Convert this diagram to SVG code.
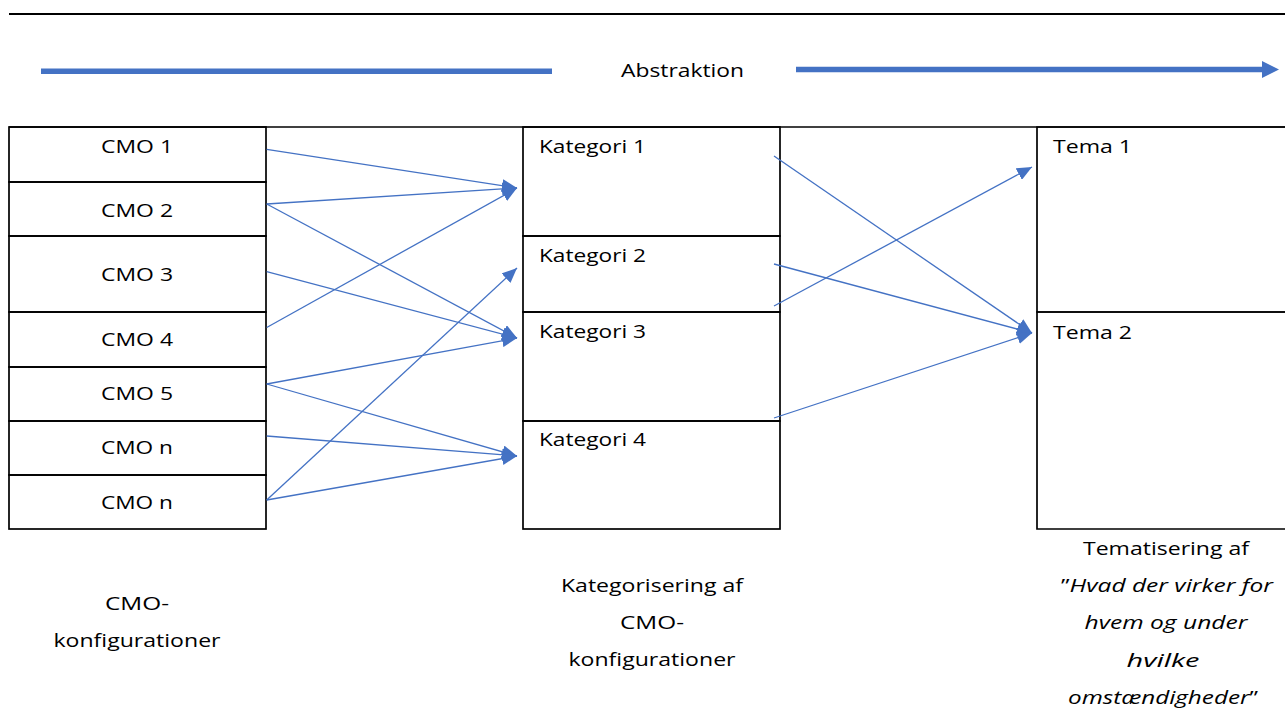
<svg xmlns="http://www.w3.org/2000/svg" width="1285" height="711" viewBox="0 0 1285 711">
<style>
.bg{fill:#ffffff}
.box{fill:none;stroke:#000000;stroke-width:1.7}
.t{font-family:"Open Sans","Liberation Sans",sans-serif;font-size:18px;fill:#000000}
.c{text-anchor:middle}
.i{font-style:italic}
.con{stroke:#4472C4;stroke-width:1.3;fill:none}
.bar{stroke:#4472C4;stroke-width:5.5;fill:none}
</style>
<defs>
<marker id="ah" markerUnits="userSpaceOnUse" markerWidth="16" markerHeight="13" refX="15" refY="6.5" orient="auto">
<path d="M0,0 L15,6.5 L0,13 z" fill="#4472C4"/>
</marker>
</defs>
<rect class="bg" x="0" y="0" width="1285" height="711"/>
<line x1="9" y1="14" x2="1285" y2="14" stroke="#000" stroke-width="2.2"/>
<g id="abstraction">
<line class="bar" x1="41" y1="71.2" x2="552" y2="71.2"/>
<line class="bar" x1="796" y1="69.5" x2="1263" y2="69.5"/>
<polygon points="1262,61 1279,69.5 1262,78" fill="#4472C4"/>
<text class="t" x="621" y="77" textLength="123" lengthAdjust="spacingAndGlyphs">Abstraktion</text>
</g>
<line class="box" x1="9" y1="127" x2="1285" y2="127"/>
<g id="cmo1"><rect class="box" x="9" y="127" width="257" height="55"/><text class="t c" x="137" y="153" textLength="72" lengthAdjust="spacingAndGlyphs">CMO 1</text></g>
<g id="cmo2"><rect class="box" x="9" y="182" width="257" height="54"/><text class="t c" x="137" y="216.5" textLength="72" lengthAdjust="spacingAndGlyphs">CMO 2</text></g>
<g id="cmo3"><rect class="box" x="9" y="236" width="257" height="76"/><text class="t c" x="137" y="281" textLength="72" lengthAdjust="spacingAndGlyphs">CMO 3</text></g>
<g id="cmo4"><rect class="box" x="9" y="312" width="257" height="55"/><text class="t c" x="137" y="345.5" textLength="72" lengthAdjust="spacingAndGlyphs">CMO 4</text></g>
<g id="cmo5"><rect class="box" x="9" y="367" width="257" height="54"/><text class="t c" x="137" y="400" textLength="72" lengthAdjust="spacingAndGlyphs">CMO 5</text></g>
<g id="cmon1"><rect class="box" x="9" y="421" width="257" height="54"/><text class="t c" x="137" y="454" textLength="72" lengthAdjust="spacingAndGlyphs">CMO n</text></g>
<g id="cmon2"><rect class="box" x="9" y="475" width="257" height="54"/><text class="t c" x="137" y="508.5" textLength="72" lengthAdjust="spacingAndGlyphs">CMO n</text></g>
<g id="kat1"><rect class="box" x="523" y="127" width="257" height="109"/><text class="t" x="539" y="153" textLength="107" lengthAdjust="spacingAndGlyphs">Kategori 1</text></g>
<g id="kat2"><rect class="box" x="523" y="236" width="257" height="76"/><text class="t" x="539" y="262" textLength="107" lengthAdjust="spacingAndGlyphs">Kategori 2</text></g>
<g id="kat3"><rect class="box" x="523" y="312" width="257" height="109"/><text class="t" x="539" y="338" textLength="107" lengthAdjust="spacingAndGlyphs">Kategori 3</text></g>
<g id="kat4"><rect class="box" x="523" y="421" width="257" height="108"/><text class="t" x="539" y="446" textLength="107" lengthAdjust="spacingAndGlyphs">Kategori 4</text></g>
<g id="tema1"><path class="box" d="M1290,127 H1037 V312 H1290"/><text class="t" x="1053" y="153" textLength="79" lengthAdjust="spacingAndGlyphs">Tema 1</text></g>
<g id="tema2"><path class="box" d="M1290,312 H1037 V529 H1290"/><text class="t" x="1053" y="339" textLength="79" lengthAdjust="spacingAndGlyphs">Tema 2</text></g>
<g id="connectors">
<line class="con" x1="266.7" y1="149.3" x2="517" y2="188" marker-end="url(#ah)"/>
<line class="con" x1="266.7" y1="204" x2="517" y2="188" marker-end="url(#ah)"/>
<line class="con" x1="266.7" y1="204" x2="517" y2="338" marker-end="url(#ah)"/>
<line class="con" x1="266.7" y1="271.7" x2="517" y2="338" marker-end="url(#ah)"/>
<line class="con" x1="266.7" y1="327.5" x2="517" y2="188" marker-end="url(#ah)"/>
<line class="con" x1="266.7" y1="384" x2="517" y2="338" marker-end="url(#ah)"/>
<line class="con" x1="266.7" y1="384" x2="517" y2="456" marker-end="url(#ah)"/>
<line class="con" x1="266.7" y1="436" x2="517" y2="456" marker-end="url(#ah)"/>
<line class="con" x1="266.7" y1="500" x2="517" y2="456" marker-end="url(#ah)"/>
<line class="con" x1="266.7" y1="500" x2="517" y2="268" marker-end="url(#ah)"/>
<line class="con" x1="774" y1="156" x2="1032" y2="333" marker-end="url(#ah)"/>
<line class="con" x1="774" y1="264" x2="1032" y2="333" marker-end="url(#ah)"/>
<line class="con" x1="774" y1="306" x2="1032" y2="167" marker-end="url(#ah)"/>
<line class="con" x1="774" y1="418" x2="1032" y2="333" marker-end="url(#ah)"/>
</g>
<g id="label-left">
<text class="t c" x="137" y="610" textLength="64" lengthAdjust="spacingAndGlyphs">CMO-</text>
<text class="t c" x="137" y="647" textLength="167" lengthAdjust="spacingAndGlyphs">konfigurationer</text>
</g>
<g id="label-middle">
<text class="t c" x="652" y="592" textLength="182" lengthAdjust="spacingAndGlyphs">Kategorisering af</text>
<text class="t c" x="652" y="629" textLength="64" lengthAdjust="spacingAndGlyphs">CMO-</text>
<text class="t c" x="652" y="666" textLength="167" lengthAdjust="spacingAndGlyphs">konfigurationer</text>
</g>
<g id="label-right">
<text class="t c" x="1166" y="555" textLength="166" lengthAdjust="spacingAndGlyphs">Tematisering af</text>
<text class="t c" x="1167" y="592" textLength="212" lengthAdjust="spacingAndGlyphs">”<tspan class="i">Hvad der virker for</tspan></text>
<text class="t c i" x="1166" y="629" textLength="163" lengthAdjust="spacingAndGlyphs">hvem og under</text>
<text class="t c i" x="1163" y="667" textLength="73" lengthAdjust="spacingAndGlyphs">hvilke</text>
<text class="t c" x="1163" y="704" textLength="190" lengthAdjust="spacingAndGlyphs"><tspan class="i">omstændigheder</tspan>”</text>
</g>
</svg>
